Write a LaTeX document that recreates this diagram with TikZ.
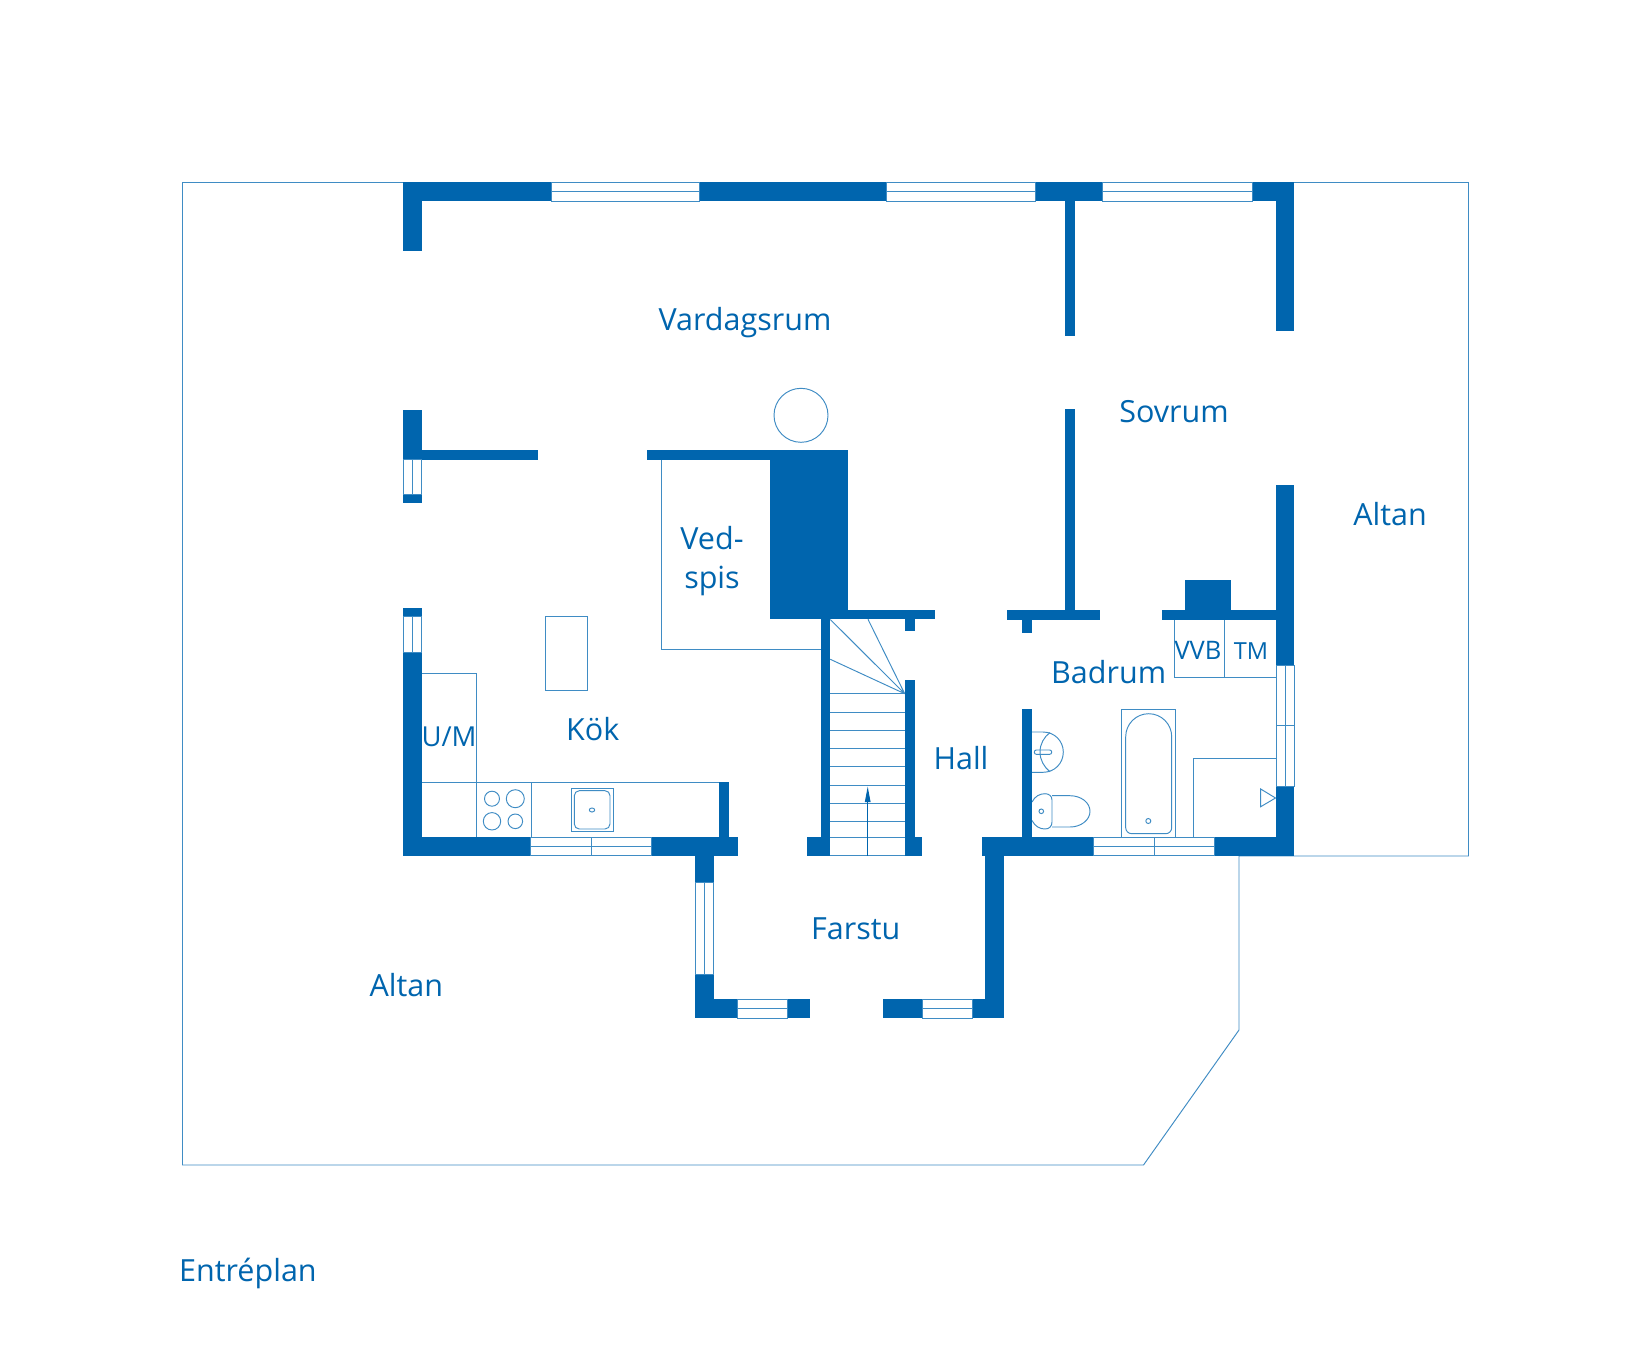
\documentclass[tikz,border=0pt]{standalone}
\usepackage{fontspec}
\setmainfont{Open Sans}
\usetikzlibrary{arrows.meta}
\definecolor{planblue}{HTML}{0065AE}
\definecolor{planline}{HTML}{3F8CC4}
\tikzset{
  thinline/.style={draw=planline,line width=0.95pt},
  label/.style={text=planblue,font=\fontsize{30.5}{30.5}\selectfont,anchor=base,inner sep=0pt},
  smalllabel/.style={text=planblue,font=\fontsize{25.5}{25.5}\selectfont,anchor=base,inner sep=0pt},
}
\newcommand{\wl}[4]{\fill[planblue] (#1,#2) rectangle (#3,#4);}
\newcommand{\winh}[4]{\fill[white] (#1,#2) rectangle (#3,#4);\draw[thinline] (#1,#2) rectangle (#3,#4) (#1,{(#2+#4)/2}) -- (#3,{(#2+#4)/2});}
\newcommand{\winv}[4]{\fill[white] (#1,#2) rectangle (#3,#4);\draw[thinline] (#1,#2) rectangle (#3,#4) ({(#1+#3)/2},#2) -- ({(#1+#3)/2},#4);}
\begin{document}
\begin{tikzpicture}[x=1pt,y=-1pt]
\useasboundingbox (0,0) rectangle (1650,1347);
\fill[white] (0,0) rectangle (1650,1347);
% terrace outline
\draw[thinline] (182.5,182.5) -- (1468.5,182.5) -- (1468.5,856) -- (1239,856) -- (1239,1030) -- (1143.5,1165) -- (182.5,1165) -- cycle;
% furniture lines
\draw[thinline] (422,673.7) -- (476.3,673.7) -- (476.3,782.3);
\draw[thinline] (422,782.3) -- (719,782.3);
\draw[thinline] (476.3,782.3) -- (476.3,837) (531.3,782.3) -- (531.3,837);
\draw[thinline] (492,798.7) circle[radius=7.5pt] (515.3,798.7) circle[radius=9pt] (492,821.3) circle[radius=8.7pt] (515.3,821.3) circle[radius=7.3pt];
\draw[thinline] (571,788) rectangle (613.3,831.7);
\draw[thinline,rounded corners=5pt] (574.3,790.7) rectangle (610,829);
\draw[thinline] (592,810) ellipse[x radius=2.7pt,y radius=2pt];
\draw[thinline] (545.7,616.7) rectangle (587.7,690.3);
\draw[thinline] (661,459) -- (661,649.7) -- (821,649.7);
\draw[thinline] (801,415.3) circle[radius=27pt];
% stairs
\foreach \yy in {693.7,712,730.3,748.7,766.7,785,803.3,821.3,837.3,855.7}{\draw[thinline] (830.3,\yy) -- (904.7,\yy);}
\draw[thinline] (904.7,693.7) -- (830.3,619.5) (904.7,693.7) -- (830.3,659.3) (904.7,693.7) -- (868,619.3);
\draw[draw=planblue,line width=0.9pt] (867.7,855.7) -- (867.7,800);
\fill[planblue] (867.7,786.7) -- (870.6,802) -- (864.8,802) -- cycle;
% bathroom
\draw[thinline] (1174.3,619.5) -- (1174.3,677.7) -- (1276,677.7) (1224.7,619.5) -- (1224.7,677.7);
\draw[thinline] (1121.7,837) -- (1121.7,709.3) -- (1175.3,709.3) -- (1175.3,837);
\draw[thinline] (1125.7,736.7) .. controls (1125.7,724) and (1136,713.7) .. (1148.7,713.7) .. controls (1161.4,713.7) and (1171.7,724) .. (1171.7,736.7) -- (1171.7,827.7) .. controls (1171.7,831) and (1169,833.7) .. (1165.7,833.7) -- (1131.7,833.7) .. controls (1128.4,833.7) and (1125.7,831) .. (1125.7,827.7) -- cycle;
\draw[thinline] (1148.3,821) circle[radius=2.5pt];
\draw[thinline] (1193.3,837) -- (1193.3,758.3) -- (1276,758.3);
\draw[thinline] (1275.5,798) -- (1260.7,789) -- (1260.7,806.7) -- cycle;
% sink
\draw[thinline] (1031.7,732) -- (1043,732) .. controls (1054.5,732) and (1063.3,741) .. (1063.3,752) .. controls (1063.3,763.5) and (1054.5,772.3) .. (1043,772.3) -- (1031.7,772.3);
\draw[thinline] (1050,732.5) .. controls (1044,737) and (1040,744) .. (1040,752) .. controls (1040,760) and (1044,767) .. (1050,771.8);
\draw[thinline,rounded corners=2pt] (1034.3,750) rectangle (1051.7,754.3);
% toilet
\draw[thinline] (1032,802) .. controls (1035,796) and (1040,793.7) .. (1045,793.7) .. controls (1049,793.7) and (1052,796) .. (1052,800) -- (1052,822) .. controls (1052,826.5) and (1049,829) .. (1045,829) .. controls (1040,829) and (1035,826.5) .. (1032,820.5);
\draw[thinline] (1052,795.7) -- (1070,795.7) .. controls (1081,795.7) and (1090,802.5) .. (1090,811.3) .. controls (1090,820) and (1081,827) .. (1070,827) -- (1052,827);
\draw[thinline] (1041.3,811.3) circle[radius=2.3pt];
% walls
\wl{403}{182}{1294}{201}
\wl{403}{182}{422}{250.6}
\wl{1276}{182}{1294}{330.6}
\wl{1276}{485.3}{1294}{855.7}
\wl{1065.3}{201}{1074.7}{335.8}
\wl{1065.3}{408.5}{1074.7}{610}
\wl{1007}{610}{1100}{619.5}
\wl{1022}{619.5}{1031.7}{632.7}
\wl{1162.3}{610}{1276}{619.5}
\wl{1184.7}{580.3}{1230.7}{610}
\wl{1022}{709.3}{1031.7}{837}
\wl{981.7}{837}{1294}{855.7}
\wl{985.3}{855.7}{1004.3}{1018.3}
\wl{882.7}{999.3}{1004.3}{1018.3}
\wl{694.7}{999.3}{810}{1018.3}
\wl{694.7}{855.7}{713.7}{1018.3}
\wl{403}{607.7}{422}{855.7}
\wl{403}{837}{737.7}{855.7}
\wl{719}{782.3}{728.7}{837}
\wl{403}{409.7}{422}{502.7}
\wl{422}{449.7}{538}{459.7}
\wl{647.3}{449.7}{848}{459.7}
\wl{770.3}{459.7}{848}{610}
\wl{770.3}{610}{935}{619.3}
\wl{904.7}{619.3}{914.7}{631.3}
\wl{820.7}{619.3}{830.3}{837}
\wl{904.7}{680.3}{914.7}{837}
\wl{806.7}{837}{830.3}{855.7}
\wl{904.7}{837}{921.7}{855.7}
% windows
\winh{551}{182.5}{699}{201}
\winh{886.5}{182.5}{1035}{201}
\winh{1102}{182.5}{1252}{201}
\winv{403.5}{459.7}{421.5}{494.7}
\winv{403.5}{616.7}{421.5}{652}
\winh{530}{837}{651.7}{855.7}
\draw[thinline] (591,837) -- (591,855.7);
\winh{1093.3}{837}{1214.3}{855.7}
\draw[thinline] (1154,837) -- (1154,855.7);
\winv{1276}{665}{1294}{786}
\draw[thinline] (1276,725.7) -- (1294,725.7);
\winv{695}{882}{713.5}{974.3}
\winh{737}{999.3}{787}{1018.3}
\winh{922.7}{999.3}{972.7}{1018.3}
% texts
\node[label] (vardagsrum) at (745,330.6) {Vardagsrum};
\node[label] (sovrum) at (1174,422) {Sovrum};
\node[label] (altanr) at (1390,525) {Altan};
\node[label] (ved) at (712,549) {Ved-};
\node[label] (spis) at (712,588) {spis};
\node[label] (badrum) at (1108.7,683.3) {Badrum};
\node[smalllabel] (vvb) at (1198,659) {VVB};
\node[smalllabel,font=\fontsize{23.5}{23.5}\selectfont] (tm) at (1251,659) {TM};
\node[label] (kok) at (592.7,740) {Kök};
\node[smalllabel,font=\fontsize{27.5}{27.5}\selectfont] (um) at (449,746) {U/M};
\node[label] (hall) at (961,769) {Hall};
\node[label] (farstu) at (855.7,939.3) {Farstu};
\node[label] (altanl) at (406.4,996) {Altan};
\node[label,anchor=base west] (entre) at (179,1281) {Entréplan};
\end{tikzpicture}
\end{document}
